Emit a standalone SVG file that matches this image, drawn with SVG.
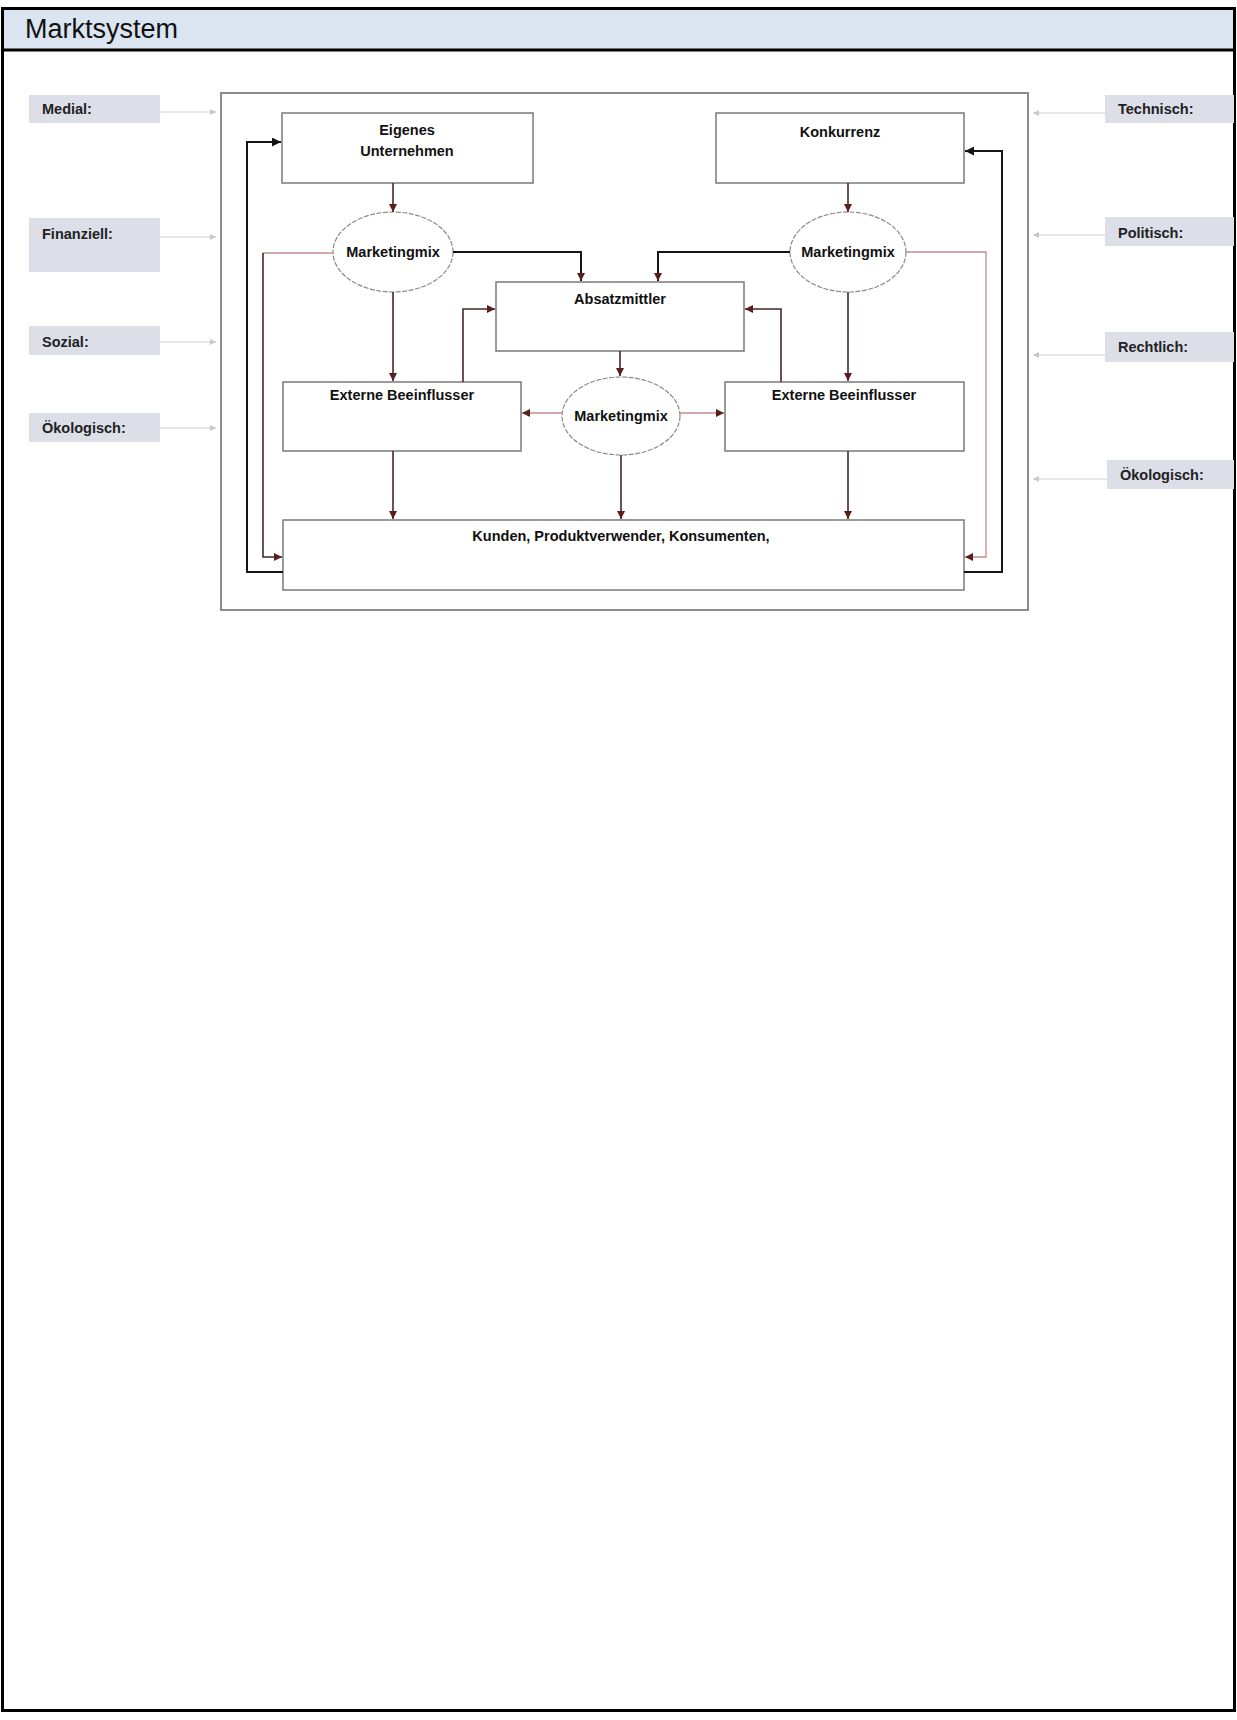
<svg xmlns="http://www.w3.org/2000/svg" width="1237" height="1720" viewBox="0 0 1237 1720">
<style>
.lbl{fill:#dcdee8}
.lt{font-family:"Liberation Sans",Arial,sans-serif;font-weight:bold;font-size:14.5px;fill:#222}
.nt{font-family:"Liberation Sans",Arial,sans-serif;font-weight:bold;font-size:14.5px;fill:#111;text-anchor:middle}
.box{fill:#fff;stroke:#7a7a7a;stroke-width:1.5}
.ell{fill:#fff;stroke:#8a8a8a;stroke-width:1.2;stroke-dasharray:5 1.5}
.dk{fill:none;stroke:#4a2626;stroke-width:1.6}
.bk{fill:none;stroke:#151515;stroke-width:2}
.lr{fill:none;stroke:#c48c8c;stroke-width:1.3}
.gr{fill:none;stroke:#cfcfcf;stroke-width:1.2}
</style>
<defs>
<marker id="ad" viewBox="0 0 10 10" refX="10" refY="5" markerWidth="8" markerHeight="8" orient="auto" markerUnits="userSpaceOnUse"><path d="M0,0 L10,5 L0,10 z" fill="#5a1e1e"/></marker>
<marker id="ab" viewBox="0 0 10 10" refX="10" refY="5" markerWidth="9" markerHeight="9" orient="auto" markerUnits="userSpaceOnUse"><path d="M0,0 L10,5 L0,10 z" fill="#151515"/></marker>
<marker id="ag" viewBox="0 0 10 10" refX="10" refY="5" markerWidth="6" markerHeight="6" orient="auto" markerUnits="userSpaceOnUse"><path d="M0,0 L10,5 L0,10 z" fill="#c8c8c8"/></marker>
</defs>

<g id="page">
<rect x="2.5" y="8.5" width="1232" height="1702" fill="#fff" stroke="#000" stroke-width="3"/>
<rect x="4" y="10" width="1229" height="40" fill="#dbe5f1"/>
<line x1="2.5" y1="50" x2="1234.5" y2="50" stroke="#000" stroke-width="3"/>
<text x="25" y="38" font-family="Liberation Sans,Arial,sans-serif" font-size="27" fill="#111">Marktsystem</text>
</g>

<g id="frame"><rect x="221" y="93" width="807" height="517" fill="#fff" stroke="#8c8c8c" stroke-width="2"/></g>

<g id="label-medial"><rect class="lbl" x="29" y="95" width="131" height="28"/><text class="lt" x="42" y="114">Medial:</text></g>
<g id="label-finanziell"><rect class="lbl" x="29" y="218" width="131" height="54"/><text class="lt" x="42" y="239">Finanziell:</text></g>
<g id="label-sozial"><rect class="lbl" x="29" y="326" width="131" height="29"/><text class="lt" x="42" y="347">Sozial:</text></g>
<g id="label-oekologisch-l"><rect class="lbl" x="29" y="413" width="131" height="29"/><text class="lt" x="42" y="433">Ökologisch:</text></g>
<g id="label-technisch"><rect class="lbl" x="1105" y="95" width="129" height="28"/><text class="lt" x="1118" y="114">Technisch:</text></g>
<g id="label-politisch"><rect class="lbl" x="1105" y="217" width="129" height="29"/><text class="lt" x="1118" y="238">Politisch:</text></g>
<g id="label-rechtlich"><rect class="lbl" x="1105" y="332" width="129" height="30"/><text class="lt" x="1118" y="352">Rechtlich:</text></g>
<g id="label-oekologisch-r"><rect class="lbl" x="1107" y="460" width="127" height="29"/><text class="lt" x="1120" y="480">Ökologisch:</text></g>

<g id="eigenes"><rect class="box" x="282" y="113" width="251" height="70"/><text class="nt" x="407" y="135">Eigenes</text><text class="nt" x="407" y="156">Unternehmen</text></g>
<g id="konkurrenz"><rect class="box" x="716" y="113" width="248" height="70"/><text class="nt" x="840" y="137">Konkurrenz</text></g>
<g id="mm-left"><ellipse class="ell" cx="393" cy="252" rx="60" ry="40"/><text class="nt" x="393" y="257">Marketingmix</text></g>
<g id="mm-right"><ellipse class="ell" cx="848" cy="252" rx="58" ry="40"/><text class="nt" x="848" y="257">Marketingmix</text></g>
<g id="absatzmittler"><rect class="box" x="496" y="282" width="248" height="69"/><text class="nt" x="620" y="304">Absatzmittler</text></g>
<g id="mm-center"><ellipse class="ell" cx="621" cy="416" rx="59" ry="39"/><text class="nt" x="621" y="421">Marketingmix</text></g>
<g id="extern-left"><rect class="box" x="283" y="382" width="238" height="69"/><text class="nt" x="402" y="400">Externe Beeinflusser</text></g>
<g id="extern-right"><rect class="box" x="725" y="382" width="239" height="69"/><text class="nt" x="844" y="400">Externe Beeinflusser</text></g>
<g id="kunden"><rect class="box" x="283" y="520" width="681" height="70"/><text class="nt" x="621" y="541">Kunden, Produktverwender, Konsumenten,</text></g>

<g id="connectors">
<path class="gr" d="M160,112 H216" marker-end="url(#ag)"/>
<path class="gr" d="M160,237 H216" marker-end="url(#ag)"/>
<path class="gr" d="M160,342 H216" marker-end="url(#ag)"/>
<path class="gr" d="M160,428 H216" marker-end="url(#ag)"/>
<path class="gr" d="M1105,113 H1033" marker-end="url(#ag)"/>
<path class="gr" d="M1105,235 H1033" marker-end="url(#ag)"/>
<path class="gr" d="M1105,355 H1033" marker-end="url(#ag)"/>
<path class="gr" d="M1107,479 H1033" marker-end="url(#ag)"/>

<path class="dk" d="M393,183 V212" marker-end="url(#ad)"/>
<path class="dk" d="M848,183 V212" marker-end="url(#ad)"/>
<path class="dk" d="M393,292 V381" marker-end="url(#ad)"/>
<path class="dk" d="M848,292 V381" marker-end="url(#ad)"/>
<path class="bk" d="M453,252 H581 V281" marker-end="url(#ad)"/>
<path class="bk" d="M790,252 H658 V281" marker-end="url(#ad)"/>
<path class="dk" d="M463,382 V309 H495" marker-end="url(#ad)"/>
<path class="dk" d="M781,382 V309 H745" marker-end="url(#ad)"/>
<path class="dk" d="M620,351 V376" marker-end="url(#ad)"/>
<path class="lr" d="M562,413 H522" marker-end="url(#ad)"/>
<path class="lr" d="M680,413 H724" marker-end="url(#ad)"/>
<path class="dk" d="M393,451 V519" marker-end="url(#ad)"/>
<path class="dk" d="M621,455 V519" marker-end="url(#ad)"/>
<path class="dk" d="M848,451 V519" marker-end="url(#ad)"/>
<path class="bk" d="M283,572 H247 V142 H281" marker-end="url(#ab)"/>
<path class="lr" d="M333,253 H263"/>
<path class="dk" d="M263,253 V557 H282" marker-end="url(#ad)"/>
<path class="bk" d="M964,572 H1002 V151 H965" marker-end="url(#ab)"/>
<path class="lr" d="M906,252 H986 V557 H965" marker-end="url(#ad)"/>
</g>
</svg>
